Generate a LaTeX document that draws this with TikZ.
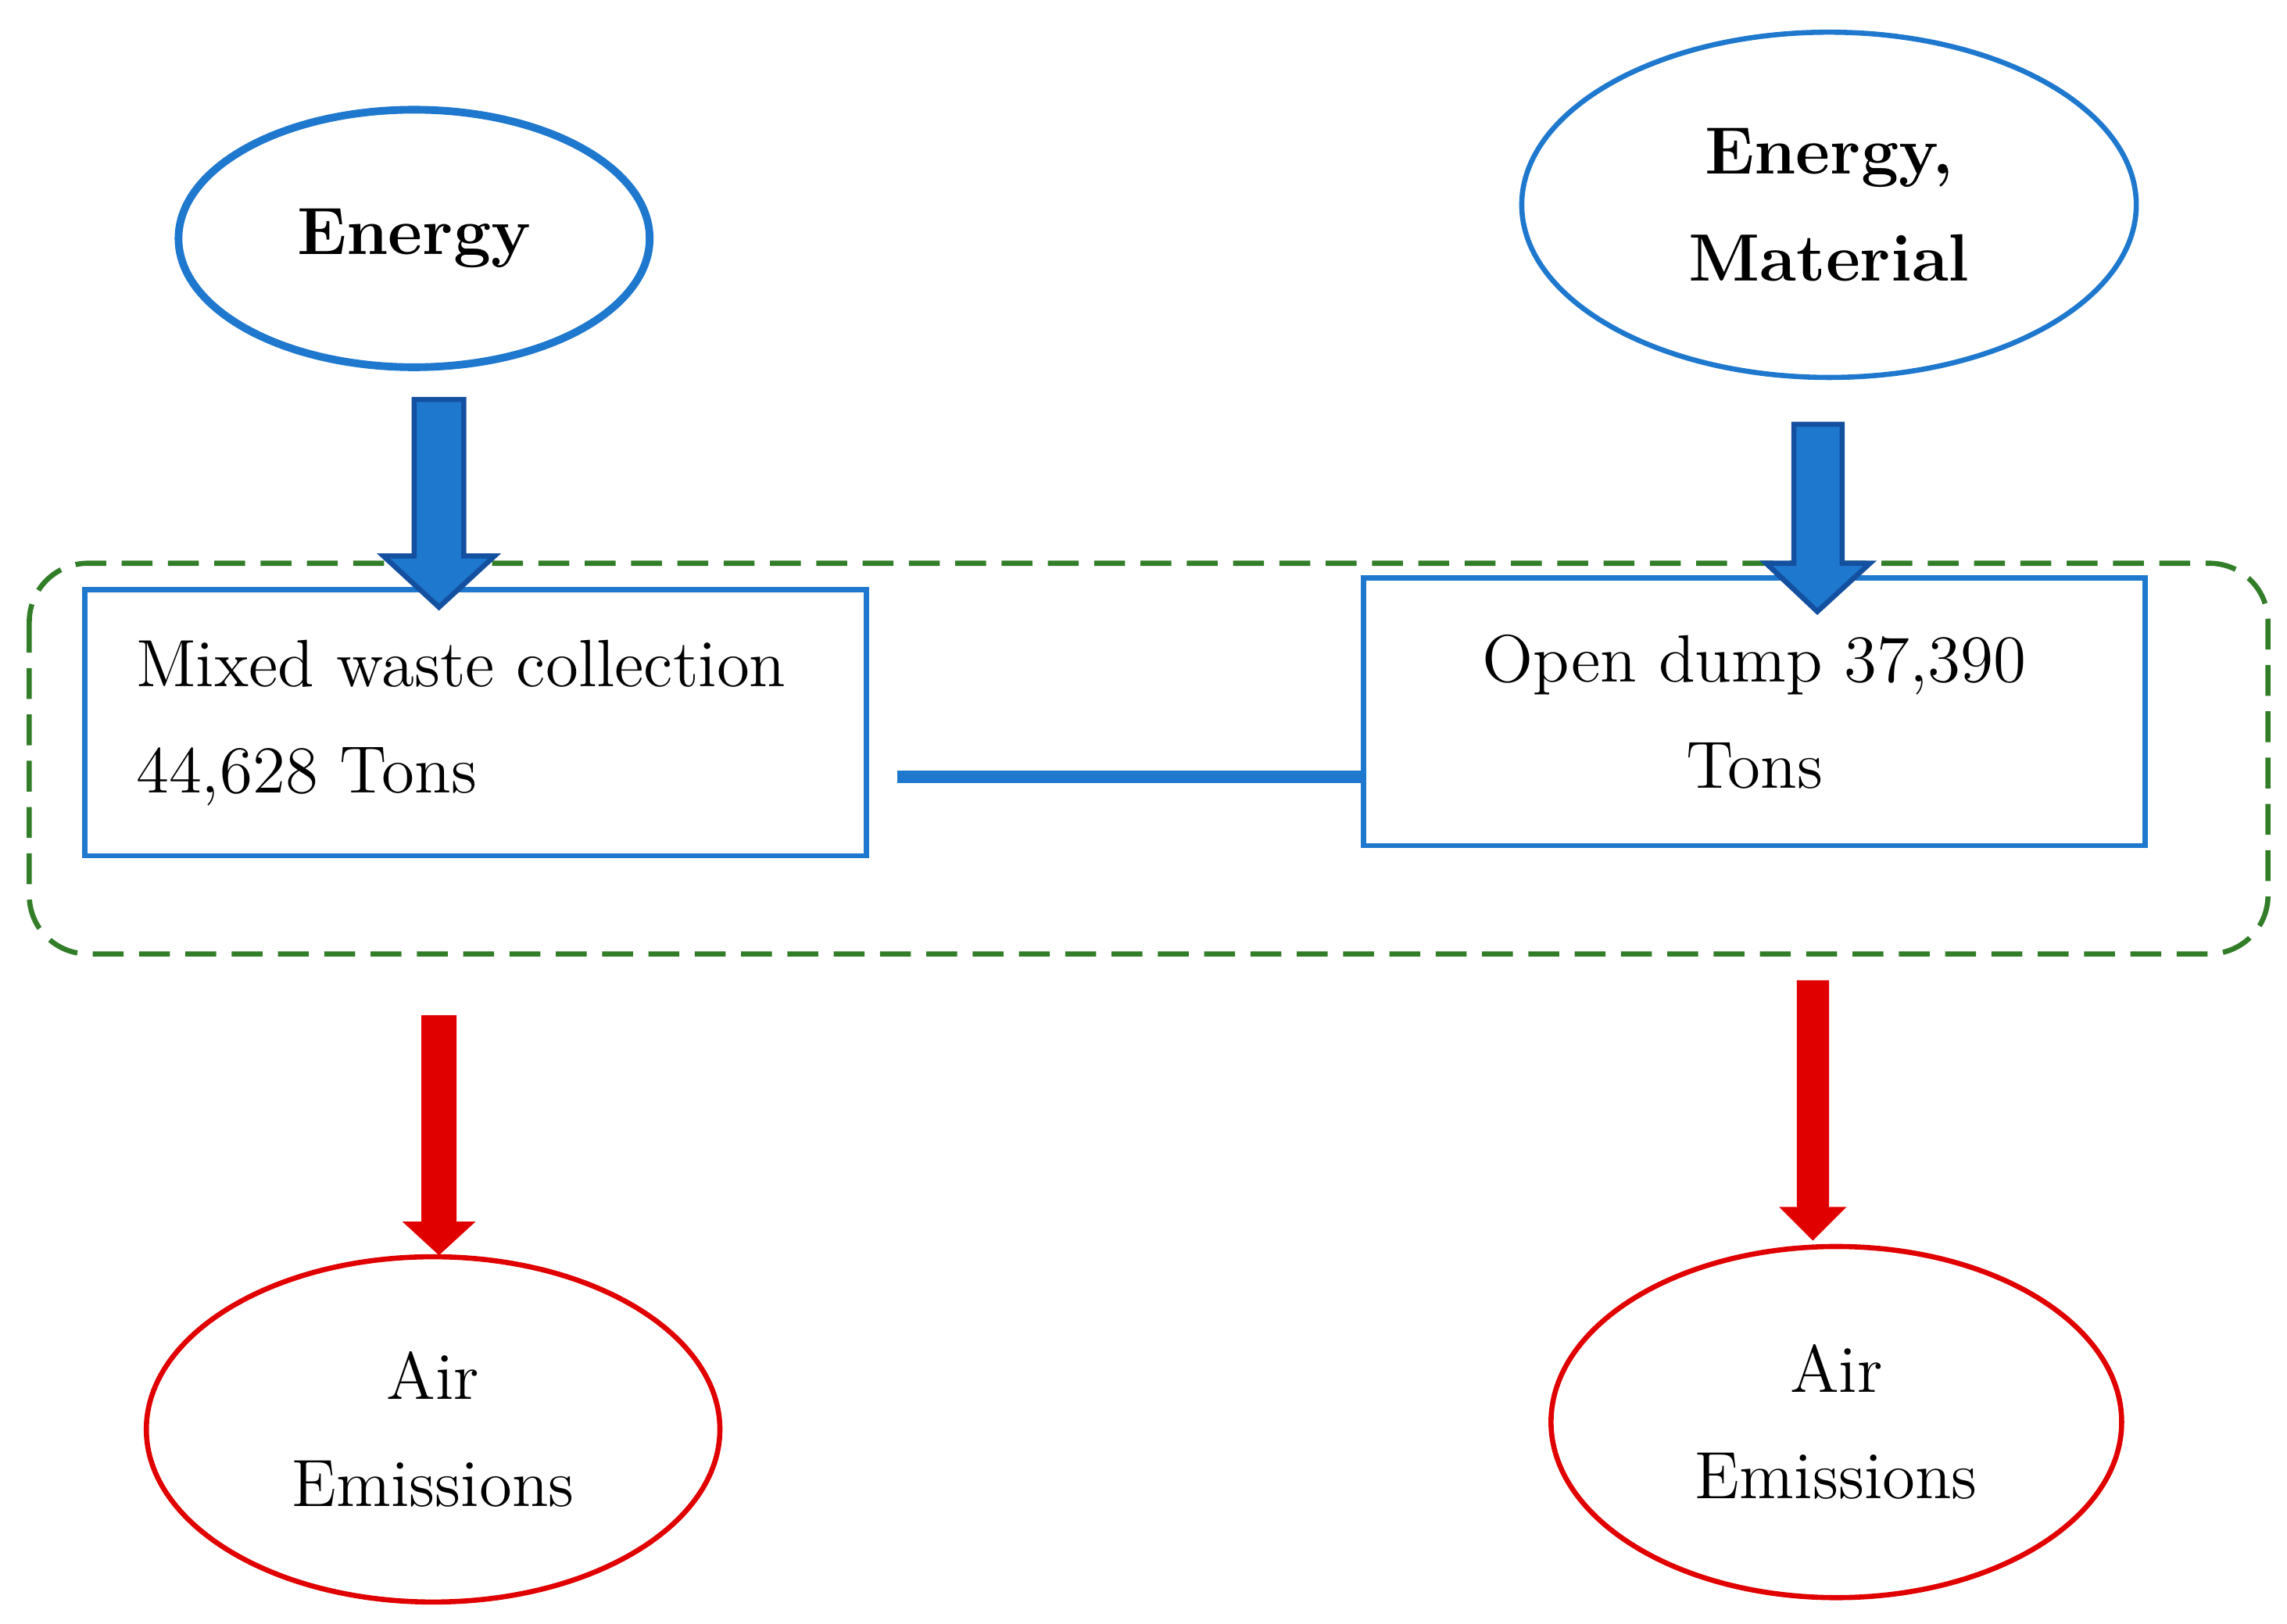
\documentclass[tikz,border=0pt]{standalone}
\usetikzlibrary{shapes.geometric}
\begin{document}
\begin{tikzpicture}[x=0.01cm,y=-0.01cm,
  txt/.style={font=\fontsize{13}{20.7}\selectfont,align=center},
  barr/.style={draw=b2,line width=1pt}]
\definecolor{b1}{RGB}{30,120,205}
\definecolor{b2}{RGB}{20,80,160}
\definecolor{g1}{RGB}{50,125,40}
\definecolor{r1}{RGB}{225,0,0}
\useasboundingbox (0,0) rectangle (1563,1110);
\node[ellipse,draw=b1,line width=1.5pt,minimum width=322*0.01cm,minimum height=176*0.01cm,txt,font=\fontsize{13}{20.7}\selectfont\bfseries] (e1) at (283,163) {Energy};
\node[ellipse,draw=b1,line width=1pt,minimum width=420*0.01cm,minimum height=236*0.01cm,txt,font=\fontsize{13}{20.7}\selectfont\bfseries] (e2) at (1250,140) {Energy,\\Material};
\draw[g1,line width=1pt,dash pattern=on 6pt off 3pt,rounded corners=0.4cm] (20,385) rectangle (1550,652);
\node[draw=b1,line width=1pt,minimum width=534*0.01cm,minimum height=182*0.01cm,text width=464*0.01cm,inner sep=0pt,txt,align=justify] (b1) at (325,494) {Mixed waste collection\\44,628 Tons};
\node[draw=b1,line width=1pt,minimum width=534*0.01cm,minimum height=183*0.01cm,txt] (b2) at (1199,486.5) {Open dump 37,390\\Tons};
\coordinate (l1) at (613,531);
\draw[b1,line width=2.3pt] (l1) -- (b2.west |- l1);
\draw[barr,fill=b1] (283,273) -- (317,273) -- (317,380) -- (338,380) -- (300,415) -- (262,380) -- (283,380) -- cycle;
\draw[barr,fill=b1] (1226,290) -- (1259,290) -- (1259,385) -- (1278,385) -- (1242,418) -- (1207,385) -- (1226,385) -- cycle;
\fill[r1] (288,694) -- (312,694) -- (312,835) -- (325,835) -- (300,858) -- (275,835) -- (288,835) -- cycle;
\fill[r1] (1228,670) -- (1250,670) -- (1250,825) -- (1262,825) -- (1239,848) -- (1216,825) -- (1228,825) -- cycle;
\node[ellipse,draw=r1,line width=1pt,minimum width=392*0.01cm,minimum height=236*0.01cm,txt,font=\fontsize{13}{20.7}\selectfont] (a1) at (296,977) {Air\\Emissions};
\node[ellipse,draw=r1,line width=1pt,minimum width=390*0.01cm,minimum height=240*0.01cm,txt,font=\fontsize{13}{20.7}\selectfont] (a2) at (1255,972) {Air\\Emissions};
\end{tikzpicture}
\end{document}
